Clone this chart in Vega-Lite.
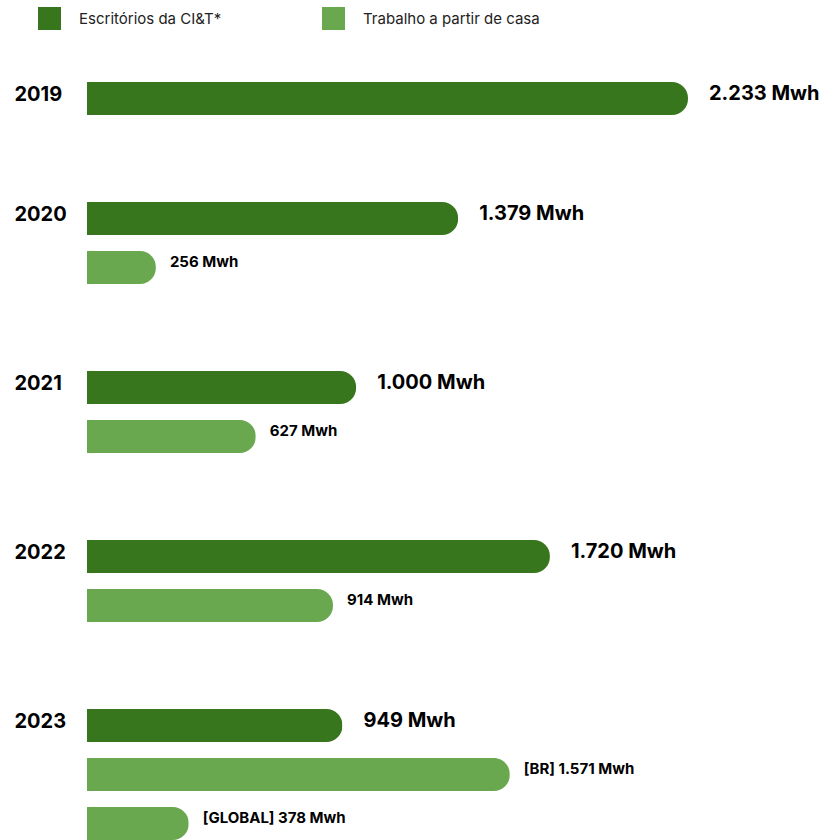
{
  "$schema": "https://vega.github.io/schema/vega-lite/v6.json",
  "padding": {"left": 14, "top": 7, "right": 0, "bottom": 0},
  "background": "#ffffff",
  "config": {
    "view": {"stroke": null},
    "font": "Inter",
    "legend": {"padding": 0}
  },
  "data": {
    "values": [
      {"year": "2019", "key": "2019|E", "series": "Escritórios da CI&T*", "value": 2233, "label": "2.233 Mwh"},
      {"year": "2020", "key": "2020|E", "series": "Escritórios da CI&T*", "value": 1379, "label": "1.379 Mwh"},
      {"year": "2020", "key": "2020|T", "series": "Trabalho a partir de casa", "value": 256, "label": "256 Mwh"},
      {"year": "2021", "key": "2021|E", "series": "Escritórios da CI&T*", "value": 1000, "label": "1.000 Mwh"},
      {"year": "2021", "key": "2021|T", "series": "Trabalho a partir de casa", "value": 627, "label": "627 Mwh"},
      {"year": "2022", "key": "2022|E", "series": "Escritórios da CI&T*", "value": 1720, "label": "1.720 Mwh"},
      {"year": "2022", "key": "2022|T", "series": "Trabalho a partir de casa", "value": 914, "label": "914 Mwh"},
      {"year": "2023", "key": "2023|E", "series": "Escritórios da CI&T*", "value": 949, "label": "949 Mwh"},
      {"year": "2023", "key": "2023|TBR", "series": "Trabalho a partir de casa", "value": 1571, "label": "[BR] 1.571 Mwh"},
      {"year": "2023", "key": "2023|TGL", "series": "Trabalho a partir de casa", "value": 378, "label": "[GLOBAL] 378 Mwh"}
    ]
  },
  "facet": {
    "row": {"field": "year", "type": "ordinal", "title": null, "header": {"labels": false, "title": null}}
  },
  "spacing": 71,
  "resolve": {"scale": {"y": "independent"}},
  "spec": {
    "width": 601,
    "height": {"step": 49},
    "encoding": {
      "y": {
        "field": "key",
        "type": "nominal",
        "sort": null,
        "scale": {"paddingInner": 0.33, "paddingOuter": 0.165},
        "axis": {
          "title": null,
          "domain": false,
          "ticks": false,
          "grid": false,
          "labelPadding": 73,
          "labelAlign": "left",
          "labelFontSize": 20,
          "labelFontWeight": "bold",
          "labelColor": "#000000",
          "labelOffset": -4,
          "labelExpr": "split(datum.value, '|')[1] == 'E' ? split(datum.value, '|')[0] : ''"
        }
      },
      "x": {"field": "value", "type": "quantitative", "scale": {"domain": [0, 2233]}, "axis": null}
    },
    "layer": [
      {
        "mark": {"type": "bar", "cornerRadiusEnd": 16},
        "encoding": {
          "color": {
            "field": "series",
            "type": "nominal",
            "scale": {"domain": ["Escritórios da CI&T*", "Trabalho a partir de casa"], "range": ["#38761d", "#6aa84f"]},
            "legend": {
              "title": null,
              "orient": "none",
              "direction": "horizontal",
              "legendX": -49,
              "legendY": -67,
              "symbolType": "square",
              "symbolSize": 529,
              "symbolStrokeWidth": 0,
              "labelFontSize": 15,
              "labelColor": "#222222",
              "labelOffset": 18,
              "labelLimit": 400,
              "columnPadding": 100
            }
          }
        }
      },
      {
        "transform": [{"filter": "datum.series === 'Escritórios da CI&T*'"}],
        "mark": {"type": "text", "align": "left", "baseline": "middle", "dx": 21, "dy": -5, "fontSize": 20, "fontWeight": "bold", "color": "#000000"},
        "encoding": {"text": {"field": "label"}}
      },
      {
        "transform": [{"filter": "datum.series !== 'Escritórios da CI&T*'"}],
        "mark": {"type": "text", "align": "left", "baseline": "middle", "dx": 14, "dy": -6, "fontSize": 15, "fontWeight": "bold", "color": "#000000"},
        "encoding": {"text": {"field": "label"}}
      }
    ]
  }
}
